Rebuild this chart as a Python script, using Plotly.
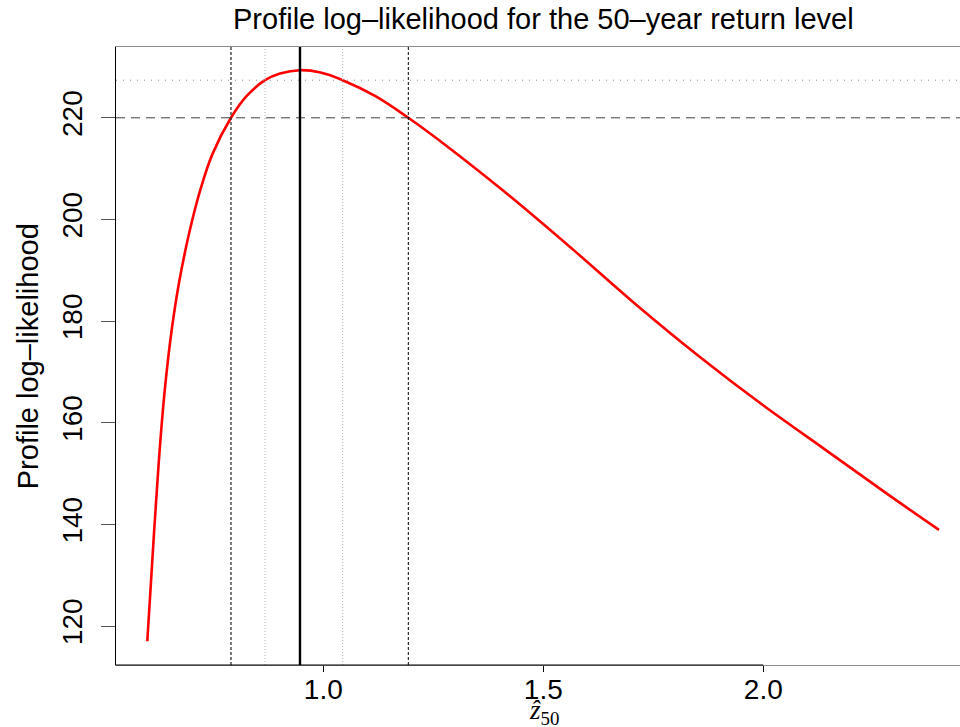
import plotly.graph_objects as go

# Profile log-likelihood curve
z50 = [0.6000, 0.6157, 0.6273, 0.6395, 0.6552, 0.6725, 0.6952, 0.7218, 0.7480,
       0.7902, 0.8259, 0.8675, 0.9016, 0.947, 0.994, 1.0441, 1.1186, 1.1932,
       1.281, 1.4245, 1.5677, 1.7111, 1.8545, 1.998, 2.1414, 2.2848, 2.3993]
loglik = [117.0, 138.93, 153.70, 166.27, 178.10, 187.72, 197.33, 206.19, 212.85,
          220.0, 224.29, 227.4, 228.7, 229.37, 228.9, 227.4, 224.25, 220.0,
          214.41, 204.56, 194.06, 183.23, 173.04, 163.53, 154.67, 145.80, 138.91]

# Reference lines
mle_z = 0.947
ci95 = [0.7902, 1.1932]
ci50 = [0.8675, 1.0441]
h_dashed = 220.0
h_dotted = 227.4

x_ticks = [1.0, 1.5, 2.0]
x_ticklabels = ["1.0", "1.5", "2.0"]
y_ticks = [120, 140, 160, 180, 200, 220]

XR = [0.52886, 2.44705]
YR = [112.33, 233.93]

FONT = "Liberation Sans, Arial, sans-serif"

fig = go.Figure()

fig.add_trace(go.Scatter(x=z50, y=loglik, mode="lines",
                         line=dict(color="#ff0000", width=2.6, shape="spline", smoothing=1.0),
                         showlegend=False, hoverinfo="skip"))

shapes = []
# horizontal lines
shapes.append(dict(type="line", xref="paper", yref="y", x0=0, x1=1, y0=h_dotted, y1=h_dotted,
                   line=dict(color="#8a8a8a", width=1, dash="1px,6px")))
shapes.append(dict(type="line", xref="paper", yref="y", x0=0, x1=1, y0=h_dashed, y1=h_dashed,
                   line=dict(color="#404040", width=1, dash="9px,6px")))
# vertical lines
for xv in ci50:
    shapes.append(dict(type="line", xref="x", yref="paper", x0=xv, x1=xv, y0=0, y1=1,
                       line=dict(color="#b0b0b0", width=1, dash="1px,2px")))
shapes.append(dict(type="line", xref="x", yref="paper", x0=ci95[0], x1=ci95[0], y0=0, y1=1,
                   line=dict(color="#333333", width=1.3, dash="3px,2px")))
shapes.append(dict(type="line", xref="x", yref="paper", x0=ci95[1], x1=ci95[1], y0=0, y1=1,
                   line=dict(color="#000000", width=1, dash="3px,2px")))
shapes.append(dict(type="line", xref="x", yref="paper", x0=mle_z, x1=mle_z, y0=0, y1=1,
                   line=dict(color="#000000", width=2.4)))
# black part of the bottom axis
shapes.append(dict(type="line", xref="x", yref="paper", x0=XR[0], x1=x_ticks[-1], y0=0, y1=0,
                   line=dict(color="#000000", width=1.2)))

fig.update_layout(
    width=960, height=727,
    margin=dict(l=116, r=0, t=47, b=62),
    paper_bgcolor="white", plot_bgcolor="white",
    font=dict(family=FONT, size=28, color="black"),
    shapes=shapes,
    annotations=[
        dict(text="Profile log\u2013likelihood for the 50\u2013year return level",
             xref="paper", yref="paper", x=0.507, y=1.0453, xanchor="center", yanchor="middle",
             showarrow=False, font=dict(family=FONT, size=29, color="black")),
        dict(text="Profile log\u2013likelihood", textangle=-90,
             xref="paper", yref="paper", x=-0.104, y=0.5, xanchor="center", yanchor="middle",
             showarrow=False, font=dict(family=FONT, size=29, color="black")),
        dict(text="<i>\u1e91</i><sub>50</sub>",
             xref="paper", yref="paper", x=0.507, y=-0.076, xanchor="center", yanchor="middle",
             showarrow=False, font=dict(family="Liberation Serif, DejaVu Serif, serif", size=27, color="black")),
    ],
)

fig.update_xaxes(range=XR, tickvals=x_ticks, ticktext=x_ticklabels,
                 showgrid=False, zeroline=False,
                 showline=True, linecolor="#8c8c8c", linewidth=1.2, mirror=True,
                 ticks="outside", ticklen=6, tickcolor="black", tickwidth=1,
                 ticklabelstandoff=-7,
                 tickfont=dict(family=FONT, size=28, color="black"))
fig.update_yaxes(range=YR, tickvals=y_ticks,
                 showgrid=False, zeroline=False,
                 showline=True, linecolor="black", linewidth=1.2, mirror=False,
                 ticks="outside", ticklen=14, tickcolor="#555555", tickwidth=1,
                 tickangle=-90, ticklabelstandoff=8,
                 tickfont=dict(family=FONT, size=28, color="black"))

fig.write_html("out.html")
